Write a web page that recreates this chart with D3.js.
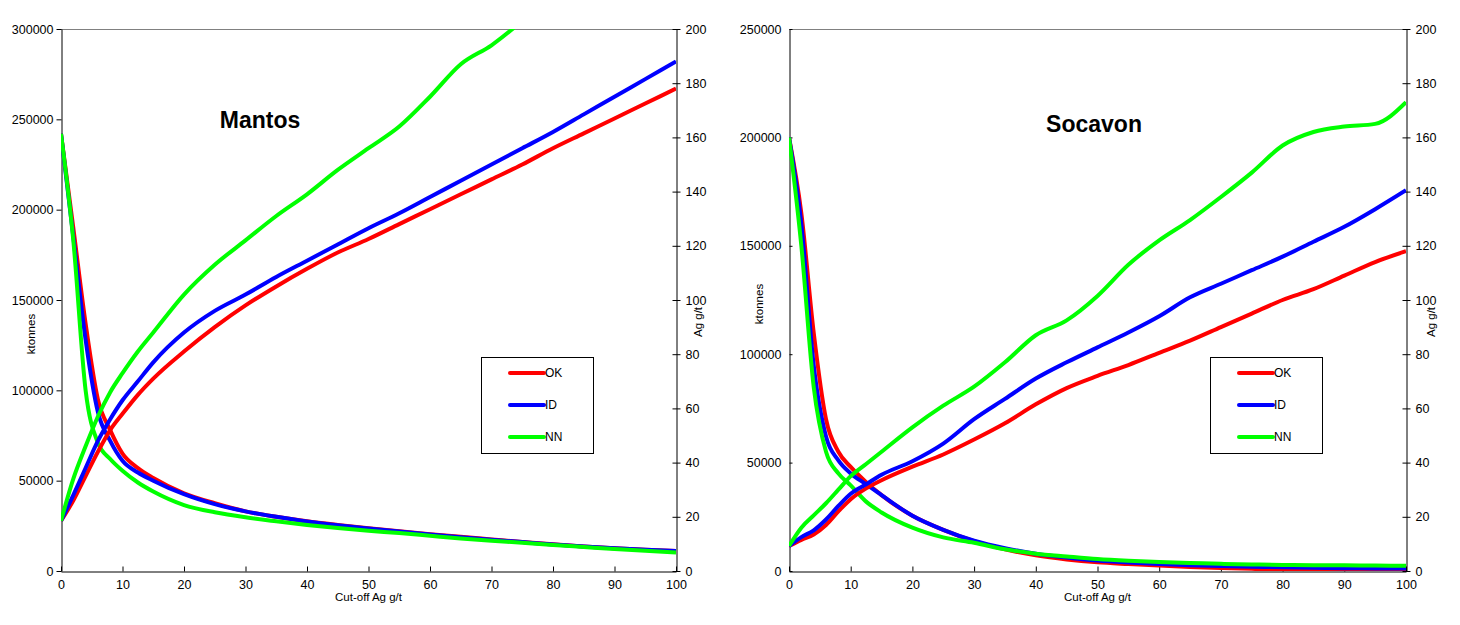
<!DOCTYPE html>
<html>
<head>
<meta charset="utf-8">
<script src="https://cdn.jsdelivr.net/npm/d3@7"></script>
<style>
  body { margin: 0; background: #fff; }
  svg { display: block; font-family: "Liberation Sans", Arial, sans-serif; }
</style>
</head>
<body>
<div id="chart"></div>
<script>
// cut-off grades (Ag g/t)
var cutoffs = [0, 2, 4, 6, 8, 10, 12.5, 15, 20, 25, 30, 35, 40, 45, 50, 55, 60, 65, 70, 75, 80, 85, 90, 95, 100];
var seriesNames = ["OK", "ID", "NN"];
var seriesColors = ["#ff0000", "#0000ff", "#00ff00"];

// Mantos - tonnage (ktonnes)
var mantosTonOK = [242000, 190000, 137000, 95000, 78000, 65000, 57000, 51500, 43000, 37500, 33000, 30000, 27500, 25500, 23700, 22000, 20400, 18900, 17500, 16100, 14800, 13600, 12600, 11800, 11000];
var mantosTonID = [242000, 185000, 128000, 88000, 72000, 61000, 54500, 50000, 42500, 37000, 33000, 30000, 27400, 25300, 23500, 21800, 20200, 18700, 17300, 16000, 14700, 13600, 12600, 11800, 11000];
var mantosTonNN = [242000, 183000, 100000, 71000, 62000, 55500, 49000, 44000, 36500, 32500, 29700, 27500, 25500, 23800, 22300, 21000, 19500, 18000, 16800, 15600, 14400, 13300, 12200, 11200, 10300];
// Mantos - grade above cut-off (Ag g/t)
var mantosGrOK = [18.5, 26, 35, 44, 52, 58, 65, 71, 81, 90, 98, 105, 111.5, 117.5, 122.5, 128, 133.5, 139, 144.5, 150, 156, 161.5, 167, 172.5, 178];
var mantosGrID = [18.5, 28, 38, 48, 56, 63, 70, 77, 88, 96, 102, 108.5, 114.5, 120.5, 126.5, 132, 138, 144, 150, 156, 162, 168.5, 175, 181.5, 188];
var mantosGrNN = [18.5, 34, 46, 57, 66, 73, 81, 88, 102, 113, 122, 131, 139, 148, 156, 164, 175, 187, 194, 203, null, null, null, null, null];

// Socavon - tonnage (ktonnes)
var socavonTonOK = [200000, 165000, 110000, 70000, 55000, 48000, 41000, 35000, 25500, 19000, 13800, 10000, 7200, 5300, 4000, 3200, 2500, 1900, 1400, 1000, 700, 500, 400, 300, 200];
var socavonTonID = [200000, 160000, 95000, 62000, 51000, 45000, 40000, 35000, 25500, 19000, 14000, 10500, 8000, 6200, 4800, 3900, 3200, 2700, 2300, 2000, 1700, 1500, 1300, 1200, 1100];
var socavonTonNN = [200000, 150000, 85000, 55000, 45000, 39500, 32000, 27000, 20000, 15500, 13000, 10000, 8000, 6700, 5500, 4700, 4100, 3700, 3300, 3000, 2800, 2700, 2600, 2500, 2400];
// Socavon - grade above cut-off (Ag g/t)
var socavonGrOK = [9.2, 11.5, 13.5, 17, 22, 26.5, 30.5, 33.5, 38.5, 43, 48.5, 54.5, 61.5, 67.5, 72, 76, 80.5, 85, 90, 95, 100, 104, 109, 114, 118];
var socavonGrID = [9.2, 12.5, 15, 19, 24, 28.5, 32, 35.5, 40.5, 47, 56, 63.5, 71, 77, 82.5, 88, 94, 101, 106, 111, 116, 121.5, 127, 133.5, 140.5];
var socavonGrNN = [9.2, 16, 20.5, 25, 30, 35, 39.5, 44, 53, 61, 68, 77, 87, 92.5, 101.5, 113, 122, 129.5, 138, 147, 157, 162, 164, 165, 173];

// axis ticks
var xTicks = [0, 10, 20, 30, 40, 50, 60, 70, 80, 90, 100];
var gradeTicks = [0, 20, 40, 60, 80, 100, 120, 140, 160, 180, 200];
var mantosTonTicks = [0, 50000, 100000, 150000, 200000, 250000, 300000];
var socavonTonTicks = [0, 50000, 100000, 150000, 200000, 250000];

var width = 1460,
    height = 625,
    plotTop = 29,
    plotBottom = 571;

var svg = d3.select("#chart").append("svg")
    .attr("width", width)
    .attr("height", height);

var panels = [
    {
        id: "m", title: "Mantos", titleX: 260, titleY: 128,
        left: 61, right: 676, tonMax: 300000, tonTicks: mantosTonTicks,
        ton: [mantosTonOK, mantosTonID, mantosTonNN],
        grade: [mantosGrOK, mantosGrID, mantosGrNN],
        legendX: 481, legendY: 357, ktX: 31, ktY: 334, agX: 698, agY: 322, leftTicksCross: false
    },
    {
        id: "s", title: "Socavon", titleX: 1094, titleY: 132,
        left: 789, right: 1406, tonMax: 250000, tonTicks: socavonTonTicks,
        ton: [socavonTonOK, socavonTonID, socavonTonNN],
        grade: [socavonGrOK, socavonGrID, socavonGrNN],
        legendX: 1210, legendY: 357, ktX: 759, ktY: 304, agX: 1431, agY: 322, leftTicksCross: true
    }
];

panels.forEach(function (p) {
    drawPanel(p);
});

function drawPanel(p) {
    var x = d3.scaleLinear().domain([0, 100]).range([p.left, p.right]);
    var yT = d3.scaleLinear().domain([0, p.tonMax]).range([plotBottom, plotTop]);
    var yG = d3.scaleLinear().domain([0, 200]).range([plotBottom, plotTop]);

    var g = svg.append("g");

    g.append("clipPath").attr("id", "clip-" + p.id)
        .append("rect")
        .attr("x", p.left).attr("y", plotTop)
        .attr("width", p.right - p.left).attr("height", plotBottom - plotTop);

    // top border
    g.append("line")
        .attr("x1", p.left).attr("x2", p.right)
        .attr("y1", plotTop + 0.5).attr("y2", plotTop + 0.5)
        .attr("stroke", "#808080");

    // left axis (ktonnes)
    var la = g.append("g")
        .attr("transform", "translate(" + (p.left + 0.5) + ",0)")
        .call(d3.axisLeft(yT).tickValues(p.tonTicks).tickSizeInner(5).tickSizeOuter(0).tickPadding(3).tickFormat(d3.format("d")));
    if (p.leftTicksCross) la.selectAll(".tick line").attr("x2", 3);

    // right axis (Ag g/t)
    g.append("g")
        .attr("transform", "translate(" + (p.right + 0.5) + ",0)")
        .call(d3.axisRight(yG).tickValues(gradeTicks).tickSizeInner(4).tickSizeOuter(0).tickPadding(5))
        .selectAll(".tick line").attr("x1", -4);

    // bottom axis
    g.append("g")
        .attr("transform", "translate(0," + (plotBottom + 0.5) + ")")
        .call(d3.axisBottom(x).tickValues(xTicks).tickSizeInner(-5).tickSizeOuter(0).tickPadding(9));

    g.selectAll(".domain").attr("stroke", "#000");
    g.selectAll(".tick line").attr("stroke", "#000");
    g.selectAll(".tick text").attr("font-size", 12.5).attr("fill", "#000")
        .attr("font-family", "'Liberation Sans', Arial, sans-serif");

    // axis titles
    g.append("text")
        .attr("transform", "translate(" + p.ktX + "," + p.ktY + ") rotate(-90)")
        .attr("text-anchor", "middle")
        .attr("dy", "0.35em")
        .attr("font-size", 11.5)
        .text("ktonnes");
    g.append("text")
        .attr("transform", "translate(" + p.agX + "," + p.agY + ") rotate(-90)")
        .attr("text-anchor", "middle")
        .attr("dy", "0.35em")
        .attr("font-size", 11.5)
        .text("Ag g/t");
    g.append("text")
        .attr("x", (p.left + p.right) / 2)
        .attr("y", 601)
        .attr("text-anchor", "middle")
        .attr("font-size", 11.5)
        .text("Cut-off Ag g/t");

    // curves
    var plot = g.append("g").attr("clip-path", "url(#clip-" + p.id + ")");

    var lineT = d3.line()
        .defined(function (d) { return d[1] != null; })
        .x(function (d) { return x(d[0]); })
        .y(function (d) { return yT(d[1]); })
        .curve(d3.curveMonotoneX);
    var lineG = d3.line()
        .defined(function (d) { return d[1] != null; })
        .x(function (d) { return x(d[0]); })
        .y(function (d) { return yG(d[1]); })
        .curve(d3.curveMonotoneX);

    p.ton.forEach(function (vals, i) {
        plot.append("path")
            .datum(cutoffs.map(function (c, k) { return [c, vals[k]]; }))
            .attr("d", lineT)
            .attr("fill", "none")
            .attr("stroke", seriesColors[i])
            .attr("stroke-width", 4)
            .attr("stroke-linejoin", "round");
    });
    p.grade.forEach(function (vals, i) {
        plot.append("path")
            .datum(cutoffs.map(function (c, k) { return [c, vals[k]]; }))
            .attr("d", lineG)
            .attr("fill", "none")
            .attr("stroke", seriesColors[i])
            .attr("stroke-width", 4)
            .attr("stroke-linejoin", "round");
    });

    // title
    g.append("text")
        .attr("x", p.titleX)
        .attr("y", p.titleY)
        .attr("text-anchor", "middle")
        .attr("font-size", 23)
        .attr("font-weight", "bold")
        .text(p.title);

    // legend
    var lg = g.append("g").attr("transform", "translate(" + p.legendX + "," + p.legendY + ")");
    lg.append("rect")
        .attr("x", 0.5).attr("y", 0.5)
        .attr("width", 112).attr("height", 96)
        .attr("fill", "#fff")
        .attr("stroke", "#000");
    seriesNames.forEach(function (name, i) {
        var yy = 16 + i * 32;
        lg.append("line")
            .attr("x1", 29).attr("x2", 63)
            .attr("y1", yy).attr("y2", yy)
            .attr("stroke", seriesColors[i])
            .attr("stroke-width", 4)
            .attr("stroke-linecap", "round");
        lg.append("text")
            .attr("x", 64)
            .attr("y", yy)
            .attr("dy", "0.35em")
            .attr("font-size", 12)
            .text(name);
    });
}
</script>
</body>
</html>
